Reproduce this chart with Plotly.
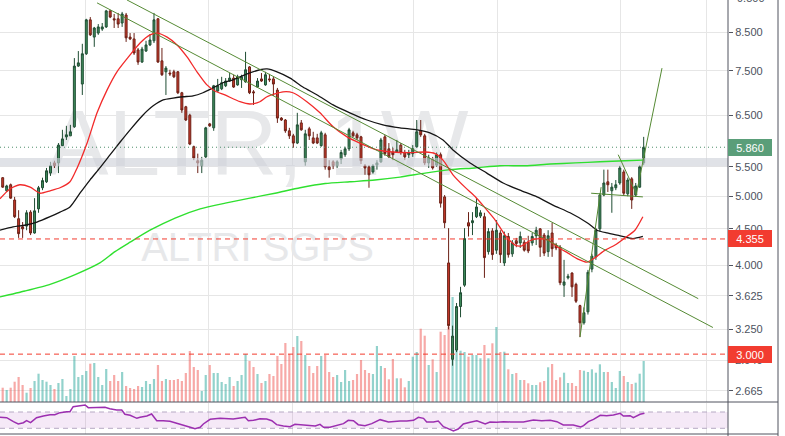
import math
import plotly.graph_objects as go

# ---------------- data (weekly candles) ----------------
open_ = [5.31,5.09,5.19,4.94,4.65,4.53,4.54,4.75,4.44,4.80,5.14,5.24,5.39,5.57,5.57,5.89,6.06,6.08,6.26,7.62,
         7.19,7.93,8.85,8.37,8.48,8.59,8.65,9.11,8.88,8.88,8.76,8.99,8.37,8.32,8.03,7.72,8.00,8.16,8.27,8.88,
         7.75,7.48,7.45,7.48,7.48,6.99,6.68,6.50,5.87,5.61,5.52,5.68,6.32,6.24,7.03,7.08,7.15,7.26,7.33,7.17,
         7.29,7.24,7.60,7.01,7.12,7.31,7.17,7.31,7.31,7.05,6.44,6.40,6.18,6.08,5.94,6.34,5.59,6.22,6.04,6.04,
         5.89,6.10,5.50,5.59,5.52,5.64,5.72,5.83,6.14,6.10,6.06,5.52,5.50,5.41,5.53,5.59,6.06,5.83,5.77,5.77,
         5.90,5.76,5.72,5.74,5.87,6.18,6.08,5.57,5.64,5.53,5.72,4.99,4.03,2.95,3.04,3.50,3.75,4.59,4.59,4.68,
         4.69,4.68,4.18,4.47,4.20,4.44,4.03,4.39,4.15,4.33,4.30,4.31,4.31,4.30,4.40,4.50,4.41,4.18,4.44,4.27,
         4.24,3.75,3.84,3.90,3.76,3.51,3.32,3.44,3.95,4.11,4.50,5.02,5.24,5.09,5.14,5.22,5.41,5.04,5.29,5.02,
         5.15,5.57]
high = [5.32,5.19,5.21,4.99,4.78,4.60,4.78,4.78,4.97,5.17,5.31,5.48,5.59,5.61,5.94,6.20,6.28,6.30,7.82,8.00,
        8.19,8.88,8.93,8.65,8.73,8.76,9.14,9.14,9.02,9.05,9.08,9.05,8.48,8.48,8.08,8.11,8.27,8.45,9.05,8.90,
        8.08,7.62,7.53,7.53,7.50,7.01,6.70,6.53,5.89,5.74,5.68,6.26,6.34,7.17,7.31,7.36,7.33,7.45,7.41,7.41,
        7.41,7.98,7.62,7.05,7.33,7.45,7.48,7.43,7.36,7.10,6.46,6.42,6.24,6.12,6.55,6.40,6.20,6.26,6.16,6.12,
        6.18,6.14,5.62,5.62,5.62,5.81,5.87,6.24,6.18,6.14,6.08,5.55,5.53,5.55,5.62,6.04,6.10,5.94,5.85,6.00,
        5.94,5.81,5.81,5.90,6.40,6.40,6.12,5.72,5.68,5.76,5.76,5.02,4.51,3.29,3.54,3.73,4.51,4.75,4.75,4.97,
        4.78,4.74,4.51,4.51,4.63,4.48,4.46,4.44,4.34,4.37,4.46,4.34,4.40,4.44,4.53,4.51,4.44,4.48,4.59,4.30,
        4.27,4.07,3.89,3.91,3.78,3.52,3.49,3.94,4.15,4.51,5.05,5.45,5.45,5.22,5.27,5.52,5.45,5.31,5.32,5.22,
        5.53,6.06]
low = [5.14,5.07,4.96,4.66,4.37,4.37,4.48,4.41,4.43,4.74,5.10,5.22,5.34,5.48,5.39,5.89,6.00,6.08,6.24,7.60,
       6.94,7.90,8.40,8.11,8.43,8.54,8.62,8.90,8.62,8.62,8.65,8.24,8.29,7.90,7.65,7.70,7.98,8.13,8.21,7.70,
       7.38,6.94,7.38,7.33,6.96,6.55,6.38,5.90,5.62,5.39,5.39,5.66,6.26,6.18,7.01,7.05,7.12,7.24,7.10,7.15,
       7.10,7.22,6.96,6.72,7.10,7.24,7.15,7.24,6.92,6.34,6.38,6.14,6.02,5.85,5.92,6.18,5.52,6.00,5.92,5.92,
       5.87,5.45,5.31,5.46,5.48,5.55,5.68,5.79,6.06,6.00,5.55,5.36,5.14,5.38,5.45,5.57,5.70,5.66,5.62,5.76,
       5.72,5.62,5.66,5.68,5.85,6.06,5.53,5.48,5.45,5.50,4.82,4.51,3.25,2.89,3.02,3.38,3.73,4.39,4.41,4.66,
       4.66,3.84,4.14,4.07,4.15,4.03,3.99,4.10,4.11,4.24,4.23,4.18,4.16,4.26,4.27,4.11,4.12,4.11,4.11,4.20,
       3.75,3.61,3.82,3.61,3.54,3.17,3.30,3.41,3.91,4.07,4.46,5.00,5.07,4.74,5.10,5.19,5.02,5.00,4.80,4.99,
       5.14,5.53]
close_ = [5.15,5.17,4.97,4.68,4.43,4.50,4.74,4.44,4.77,5.14,5.26,5.43,5.52,5.52,5.90,6.02,6.10,6.16,7.62,7.70,
          7.93,8.85,8.43,8.62,8.65,8.65,9.11,8.93,8.85,8.73,9.02,8.35,8.32,7.95,7.72,8.05,8.16,8.29,8.85,7.72,
          7.41,7.57,7.43,7.36,6.99,6.61,6.40,5.92,5.66,5.57,5.62,6.24,6.28,7.15,7.15,7.22,7.26,7.33,7.12,7.36,
          7.36,7.53,6.99,6.99,7.26,7.26,7.41,7.29,7.19,6.44,6.40,6.18,6.08,5.94,6.30,6.20,6.12,6.08,5.94,5.94,
          6.14,5.50,5.45,5.52,5.59,5.76,5.83,6.20,6.08,6.04,5.61,5.48,5.36,5.52,5.57,6.00,5.74,5.68,5.72,5.81,
          5.76,5.68,5.76,5.83,6.16,6.10,5.57,5.66,5.48,5.72,4.89,4.59,3.29,3.18,3.50,3.66,4.36,4.54,4.62,4.83,
          4.74,4.10,4.46,4.14,4.48,4.14,4.40,4.14,4.30,4.29,4.39,4.20,4.19,4.39,4.48,4.24,4.16,4.40,4.22,4.23,
          3.78,3.79,3.86,3.73,3.56,3.32,3.43,3.91,4.12,4.48,5.02,5.22,5.19,5.15,5.19,5.48,5.05,5.27,4.94,5.17,
          5.50,5.86]
volume_k = [286,240,286,406,500,340,186,280,420,566,440,406,340,260,380,460,120,260,920,500,
            540,620,766,780,500,340,660,420,540,420,600,320,280,260,320,300,420,360,460,740,
            420,460,440,440,460,420,580,1020,700,640,220,540,740,580,580,400,360,500,320,420,
            540,960,820,700,560,380,420,560,520,920,760,1180,960,1100,1320,1220,940,720,580,720,
            920,940,600,500,540,400,640,420,440,560,840,640,580,560,1120,720,680,
            454,860,474,474,294,420,906,1000,1466,1326,740,854,600,1406,1340,1506,2100,1440,1026,1000,
            906,940,940,874,1140,874,1174,1500,1000,1006,654,560,580,440,440,374,340,340,394,420,
            694,760,440,494,586,380,380,320,640,626,600,654,586,754,600,600,400,280,620,520,
            400,360,386,566,820]

# moving averages (candle index, price)
ma_fast_idx = [-0.7,1.8,4.3,6.9,9.4,11.9,14.4,16.9,18.7,21.2,23.7,26.2,28.7,32.0,34.5,37.0,38.8,41.3,43.8,46.3,
               48.8,51.3,53.3,55.8,59.6,62.1,64.6,66.4,70.4,72.9,76.4,79.7,83.0,86.5,89.7,94.0,98.0,102.3,106.1,108.6,
               110.6,113.1,116.1,118.6,121.1,123.7,126.2,128.7,130.4,132.4,134.9,137.0,139.5,142.0,144.5,146.8,148.8,151.3,153.8,156.3,
               158.8,160.8]
ma_fast_val = [4.96,5.12,5.19,5.15,5.05,5.09,5.14,5.24,5.48,5.94,6.55,7.05,7.48,7.90,8.21,8.43,8.48,8.37,8.16,7.85,
               7.48,7.17,7.03,6.94,6.79,6.74,6.79,6.90,7.01,6.99,6.79,6.55,6.26,6.06,5.94,5.81,5.77,5.76,5.77,5.74,
               5.62,5.36,5.15,5.00,4.82,4.63,4.41,4.27,4.26,4.33,4.36,4.34,4.24,4.16,4.08,4.04,4.10,4.20,4.27,4.37,
               4.48,4.68]
ma_mid_idx = [-0.7,2.6,6.1,8.6,11.9,14.4,16.9,19.4,21.9,24.4,27.0,29.5,32.0,35.2,37.8,40.3,42.8,45.3,47.8,50.3,
              52.8,55.3,57.9,61.4,64.6,66.4,68.9,72.2,75.4,79.0,83.0,87.2,91.5,95.5,99.8,104.1,107.3,110.6,113.1,117.4,
              121.6,125.7,129.9,134.2,138.2,142.5,146.8,149.3,151.8,155.1,158.3,160.8]
ma_mid_val = [4.48,4.53,4.56,4.60,4.68,4.75,4.83,5.05,5.27,5.48,5.72,5.96,6.20,6.50,6.70,6.83,6.87,6.90,6.92,6.99,
              7.10,7.22,7.29,7.43,7.53,7.55,7.48,7.33,7.12,6.94,6.72,6.55,6.40,6.30,6.24,6.20,6.14,6.00,5.81,5.57,
              5.39,5.22,5.10,4.99,4.86,4.74,4.59,4.48,4.44,4.40,4.36,4.39]
ma_slow_idx = [-0.7,5.6,11.9,18.2,24.4,28.2,32.0,37.0,43.3,49.6,55.9,62.1,68.4,74.7,81.0,87.2,93.5,99.8,106.1,112.4,
               118.6,124.9,131.2,137.5,143.8,150.0,156.3,160.8]
ma_slow_val = [3.61,3.68,3.76,3.88,4.03,4.18,4.31,4.48,4.66,4.80,4.89,4.97,5.05,5.14,5.21,5.24,5.27,5.32,5.39,5.45,
               5.48,5.52,5.52,5.55,5.57,5.59,5.61,5.62]

# RSI (candle index, value)
rsi_idx = [-0.7,1.0,2.7,3.9,5.2,6.0,7.0,8.5,10.2,11.9,13.1,14.4,16.1,16.9,17.7,19.8,20.7,21.5,23.6,25.7,
           26.9,28.6,29.9,30.7,32.0,33.7,34.5,36.2,37.4,38.7,40.3,42.0,43.7,45.4,47.1,48.3,49.6,50.4,52.1,54.6,
           56.3,57.9,59.6,60.9,61.7,63.0,64.6,66.3,67.6,68.8,70.5,72.2,73.4,75.1,76.8,78.5,79.7,80.6,82.2,83.9,
           85.6,86.8,88.1,89.3,91.0,92.7,94.8,96.9,98.1,99.8,101.5,103.2,104.4,105.7,106.5,108.2,109.4,110.7,111.9,113.2,
           114.4,115.7,117.4,119.1,121.2,122.4,124.1,125.8,127.5,130.8,133.3,135.4,137.5,139.2,140.8,143.3,145.2,145.9,147.1,148.4,
           150.1,151.7,153.4,155.1,155.9,157.6,158.4,160.1,161.2]
rsi_val = [56.9,56.1,46.3,40.6,43.8,48.7,43.8,56.1,60.2,63.5,63.5,68.4,70.8,70.8,83.1,84.7,87.2,80.6,80.6,81.5,
           78.2,74.9,74.9,64.3,61.8,54.5,56.9,60.2,65.1,48.7,48.7,47.1,42.2,38.1,32.4,29.1,32.4,40.6,52.0,54.5,
           54.5,52.8,55.3,56.9,48.7,49.5,53.6,52.8,48.7,38.9,35.6,34.0,39.7,38.1,37.3,35.6,39.7,32.4,32.4,36.5,
           41.4,49.5,48.7,38.9,36.5,41.4,51.2,45.5,47.1,47.9,47.9,49.5,56.9,54.5,45.5,45.5,47.9,34.0,29.1,23.4,
           28.3,40.6,44.6,48.7,40.6,45.5,44.6,46.3,45.5,45.5,50.4,48.7,49.5,46.3,38.1,38.1,33.2,36.5,46.3,52.0,
           61.8,61.0,62.6,66.7,60.2,61.0,56.1,64.3,66.7]

# drawings (candle index, price)
chan_upper_idx, chan_upper_px = [31.2, 174.7], [9.44, 3.59]
chan_lower_idx, chan_lower_px = [23.7, 178.4], [9.35, 3.27]
rise_idx, rise_px = [145.0, 150.3], [3.17, 5.15]
flag_low_idx, flag_low_px = [147.8, 160.8], [5.05, 4.99]
flag_diag_idx, flag_diag_px = [154.6, 159.3], [5.72, 5.02]
proj_idx, proj_px = [159.1, 165.6], [5.02, 7.57]

last_price = 5.86
level_a = 4.355
level_b = 3.000
band_lo, band_hi = 5.51, 5.66

price_ticks = [2.665, 2.94, 3.25, 3.625, 4.0, 4.5, 5.0, 5.5, 6.5, 7.5, 8.5]
price_tick_text = ["2.665", "2.940", "3.250", "3.625", "4.000", "4.500", "5.000", "5.500", "6.500", "7.500", "8.500"]
grid_x = [20.9, 51.6, 72.7, 103.1, 124.2, 155.1, 176.7]

# ---------------- figure ----------------
n = min(len(open_), len(high), len(low), len(close_), len(volume_k))
idx = list(range(n))
m = min(len(rsi_idx), len(rsi_val))

X0, X1 = -0.678, 182.18
PRICE_RANGE = [0.40984, 0.97484]        # log10
VOL_RANGE = [0, 8040]
RSI_RANGE = [16, 92.1]
MAIN_BOTTOM = 34 / 436
RSI_DOM = [2 / 436, 33 / 436]
AXIS_RIGHT = 778 / 728
FONT = "Liberation Sans, Arial, sans-serif"

up = [close_[i] >= open_[i] for i in range(n)]
vol_colors = ["rgba(38,166,154,0.5)" if u else "rgba(239,83,80,0.5)" for u in up]

fig = go.Figure()

# watermark (bottom subplot, under the price layer)
fig.add_trace(go.Scatter(x=[64], y=[5000], mode="text", text=["ALTR, 1W"],
                         textfont=dict(size=93, color="#e7e8ea", family=FONT),
                         xaxis="x", yaxis="y", hoverinfo="skip", showlegend=False))
fig.add_trace(go.Scatter(x=[64], y=[3020], mode="text", text=["ALTRI SGPS"],
                         textfont=dict(size=40, color="#e7e8ea", family=FONT),
                         xaxis="x", yaxis="y", hoverinfo="skip", showlegend=False))

# volume
fig.add_trace(go.Bar(x=idx, y=volume_k[:n], marker=dict(color=vol_colors, line=dict(width=0)),
                     width=0.55, xaxis="x", yaxis="y", hoverinfo="skip", showlegend=False))

# candles
fig.add_trace(go.Candlestick(
    x=idx, open=open_[:n], high=high[:n], low=low[:n], close=close_[:n],
    xaxis="x", yaxis="y2", whiskerwidth=0,
    increasing=dict(fillcolor="#3f8c5c", line=dict(color="#1f4d33", width=1)),
    decreasing=dict(fillcolor="#c9392a", line=dict(color="#6b2016", width=1)),
    hoverinfo="skip", showlegend=False))

# translucent horizontal band
fig.add_trace(go.Scatter(x=[X0, X1, X1, X0, X0], y=[band_lo, band_lo, band_hi, band_hi, band_lo],
                         mode="lines", fill="toself", fillcolor="rgba(205,208,216,0.62)",
                         line=dict(width=0, color="rgba(0,0,0,0)"),
                         xaxis="x", yaxis="y2", hoverinfo="skip", showlegend=False))

def line(xs, ys, color, width=1.0, dash=None, shape="linear", yaxis="y2"):
    fig.add_trace(go.Scatter(x=xs, y=ys, mode="lines",
                             line=dict(color=color, width=width, dash=dash, shape=shape,
                                       smoothing=0.6 if shape == "spline" else None),
                             xaxis="x", yaxis=yaxis, hoverinfo="skip", showlegend=False))

line(ma_slow_idx, ma_slow_val, "#2fe02f", 1.4, shape="spline")
line(ma_mid_idx, ma_mid_val, "#151515", 1.3, shape="spline")
line(ma_fast_idx, ma_fast_val, "#f22a2a", 1.3, shape="spline")

tl = "#558a34"
line(chan_upper_idx, chan_upper_px, tl, 1)
line(chan_lower_idx, chan_lower_px, tl, 1)
line(rise_idx, rise_px, tl, 1)
line(flag_low_idx, flag_low_px, tl, 1)
line(flag_diag_idx, flag_diag_px, tl, 1)
line(proj_idx, proj_px, tl, 1)

line([X0, X1], [level_a, level_a], "#f23b2e", 1, dash="5px,4px")
line([X0, X1], [level_b, level_b], "#f23b2e", 1, dash="5px,4px")
line([X0, X1], [last_price, last_price], "#4f8f6c", 1, dash="1px,3px")

# RSI pane
fig.add_trace(go.Scatter(x=[X0, X1, X1, X0, X0], y=[30, 30, 70, 70, 30], mode="lines", fill="toself",
                         fillcolor="rgba(156,39,176,0.10)", line=dict(width=0, color="rgba(0,0,0,0)"),
                         xaxis="x", yaxis="y3", hoverinfo="skip", showlegend=False))
line([X0, X1], [70, 70], "#b6a9c4", 1, dash="5px,4px", yaxis="y3")
line([X0, X1], [30, 30], "#b6a9c4", 1, dash="5px,4px", yaxis="y3")
line(rsi_idx[:m], rsi_val[:m], "#9c2fb0", 1.5, yaxis="y3")

grid = "#e6e6e6"
border = "#50535e"
fig.update_layout(
    width=785, height=436, margin=dict(l=0, r=57, t=0, b=0),
    paper_bgcolor="white", plot_bgcolor="white", showlegend=False,
    font=dict(family=FONT),
    xaxis=dict(range=[X0, X1], anchor="y", tickmode="array", tickvals=grid_x, showticklabels=False,
               ticks="", showgrid=True, gridcolor=grid, zeroline=False, showline=False,
               rangeslider=dict(visible=False), fixedrange=True),
    yaxis=dict(domain=[MAIN_BOTTOM, 1], range=VOL_RANGE, visible=False, fixedrange=True),
    yaxis2=dict(overlaying="y", side="right", anchor="x", type="log", range=PRICE_RANGE,
                tickmode="array", tickvals=price_ticks, ticktext=price_tick_text,
                showgrid=True, gridcolor=grid, zeroline=False, showline=False,
                ticks="outside", ticklen=4, tickcolor=border,
                tickfont=dict(size=11, color="#4c525e", family=FONT), fixedrange=True),
    yaxis3=dict(domain=RSI_DOM, range=RSI_RANGE, anchor="x", visible=False, fixedrange=True),
    shapes=[
        dict(type="line", xref="paper", yref="paper", x0=1, x1=1, y0=0, y1=1, line=dict(color=border, width=1)),
        dict(type="line", xref="paper", yref="paper", x0=AXIS_RIGHT, x1=AXIS_RIGHT, y0=0, y1=1, line=dict(color=border, width=1)),
        dict(type="line", xref="paper", yref="paper", x0=0, x1=AXIS_RIGHT, y0=MAIN_BOTTOM, y1=MAIN_BOTTOM, line=dict(color=border, width=1)),
        dict(type="line", xref="paper", yref="paper", x0=0, x1=AXIS_RIGHT, y0=RSI_DOM[0], y1=RSI_DOM[0], line=dict(color=border, width=1)),
    ],
)

anns = []
for val, txt, col in [(last_price, "5.860", "#5a9e79"), (level_a, "4.355", "#f23c30"), (level_b, "3.000", "#f23c30")]:
    anns.append(dict(xref="paper", yref="y2", x=1, y=math.log10(val), xanchor="left", yanchor="middle",
                     text=txt, showarrow=False, bgcolor=col, bordercolor=col, borderwidth=1, borderpad=1,
                     width=40, height=13, align="center", font=dict(color="white", size=11, family=FONT)))
anns.append(dict(xref="paper", yref="paper", x=1, y=1 + 2 / 436, xanchor="left", yanchor="middle", xshift=7,
                 text="9.500", showarrow=False, font=dict(color="#4c525e", size=11, family=FONT)))
fig.update_layout(annotations=anns)

fig.write_html("out.html", config={"displayModeBar": False},
               post_script="document.body.style.margin='0px';")
